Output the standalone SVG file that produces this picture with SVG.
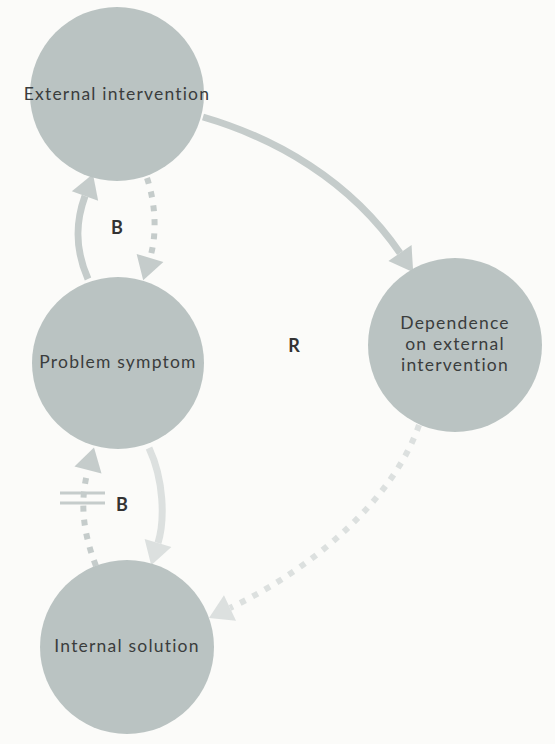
<svg xmlns="http://www.w3.org/2000/svg" width="555" height="744" viewBox="0 0 555 744">
<style>
.node{fill:#bac3c2}
.lbl{font-family:Lato,"Liberation Sans",sans-serif;font-size:17.5px;letter-spacing:1.2px;fill:#3a3d3d;text-anchor:middle}
.pol{font-family:Lato,"Liberation Sans",sans-serif;font-size:18px;font-weight:bold;fill:#333;text-anchor:middle}
.c{fill:none;stroke-width:7}
.d{fill:none;stroke-width:6;stroke-dasharray:6 8}
.mid{stroke:#c5cccb}
.light{stroke:#dce0df}
</style>
<defs>
<marker id="am" markerUnits="userSpaceOnUse" markerWidth="24" markerHeight="28" refX="0" refY="12" orient="auto" overflow="visible" viewBox="0 0 20 24"><path d="M0,0 L20,12 L0,24 z" fill="#c5cccb"/></marker>
<marker id="al" markerUnits="userSpaceOnUse" markerWidth="24" markerHeight="28" refX="0" refY="12" orient="auto" overflow="visible" viewBox="0 0 20 24"><path d="M0,0 L20,12 L0,24 z" fill="#dce0df"/></marker>
</defs>
<rect width="555" height="744" fill="#fbfbf9"/>
<g id="connectors">
<path class="c mid" d="M203,117 C275,138 350,180 400,253" marker-end="url(#am)"/>
<path class="c mid" d="M88,279 C73,245 77,218 85,196" marker-end="url(#am)"/>
<path class="d mid" d="M147,178 C156,205 157,235 150,258" marker-end="url(#am)"/>
<path class="c light" d="M149,448 C164,480 165,520 158,543" marker-end="url(#al)"/>
<path class="d mid" d="M96,566 C82,530 80,500 88,470" marker-end="url(#am)"/>
<path class="d light" d="M419,425 C395,495 320,565 230,608" marker-end="url(#al)"/>
<g id="delay" stroke="#c5cccb" stroke-width="3"><line x1="60" y1="493" x2="105" y2="493"/><line x1="60" y1="503" x2="105" y2="503"/></g>
</g>
<g id="external-intervention"><circle class="node" cx="117" cy="94" r="87"/><text class="lbl" x="117" y="100">External intervention</text></g>
<g id="problem-symptom"><circle class="node" cx="118" cy="363" r="86"/><text class="lbl" x="118" y="368">Problem symptom</text></g>
<g id="dependence"><circle class="node" cx="455" cy="345" r="87"/><text class="lbl" x="455" y="328.5"><tspan x="455">Dependence</tspan><tspan x="455" dy="21">on external</tspan><tspan x="455" dy="21">intervention</tspan></text></g>
<g id="internal-solution"><circle class="node" cx="127" cy="647" r="87"/><text class="lbl" x="127" y="652">Internal solution</text></g>
<g id="polarity"><text class="pol" x="117" y="234">B</text><text class="pol" x="122" y="511">B</text><text class="pol" x="294" y="352">R</text></g>
</svg>
